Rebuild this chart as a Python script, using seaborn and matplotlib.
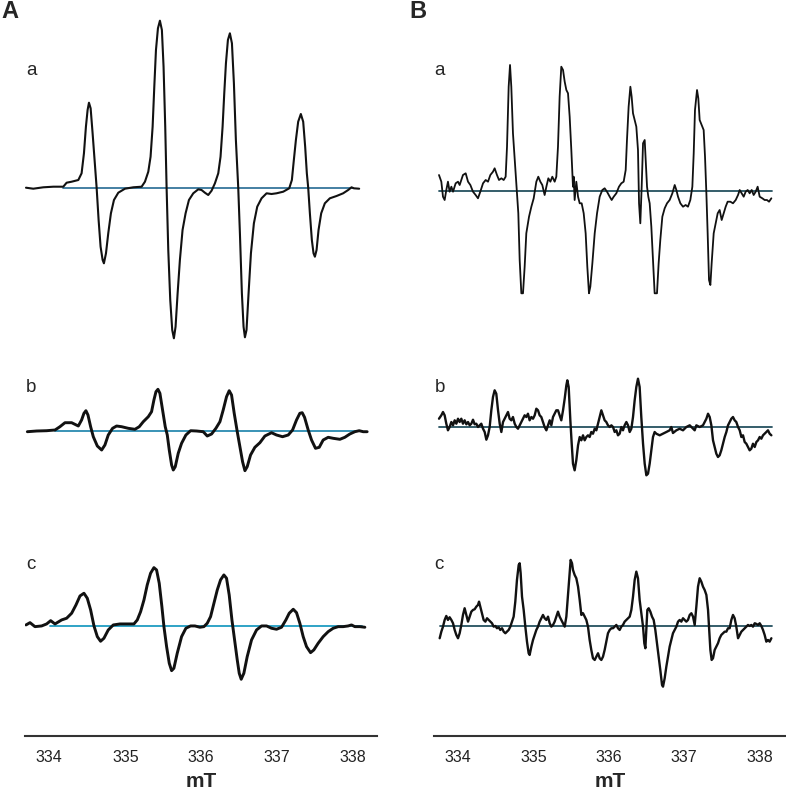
import matplotlib

matplotlib.use("Agg")
import matplotlib.pyplot as plt
import seaborn as sns

# ---------------------------------------------------------------------------
# Digitised EPR traces: (field in mT, signal in arbitrary units)
# ---------------------------------------------------------------------------

A_A = [(333.693, 0.3), (333.789, -0.7), (333.921, 0.7), (334.053, 1.3), (334.184, 1.3),
       (334.228, 5.3), (334.294, 6.3), (334.382, 8.0), (334.425, 14.7), (334.456, 34.7),
       (334.482, 61.3), (334.504, 78.0), (334.522, 85.3), (334.544, 79.7), (334.570, 54.7),
       (334.596, 28.0), (334.623, 0.3), (334.649, -32.0), (334.675, -58.7), (334.702, -72.0),
       (334.719, -75.3), (334.746, -65.3), (334.776, -45.3), (334.811, -25.3), (334.851, -12.0),
       (334.908, -4.7), (334.996, -0.7), (335.105, 0.7), (335.215, 1.3), (335.259, 6.3),
       (335.303, 16.3), (335.333, 31.3), (335.360, 61.3), (335.382, 101.3), (335.404, 138.0),
       (335.430, 159.7), (335.456, 167.3), (335.482, 158.0), (335.504, 121.3), (335.526, 61.3),
       (335.544, 0.3), (335.566, -62.0), (335.592, -112.0), (335.618, -142.0), (335.640, -150.3),
       (335.662, -138.7), (335.689, -105.3), (335.719, -72.0), (335.754, -42.0), (335.794, -25.3),
       (335.838, -12.0), (335.895, -5.3), (335.961, -1.3), (336.004, -2.0), (336.048, -4.7),
       (336.092, -7.0), (336.136, -2.7), (336.180, 4.7), (336.224, 14.7), (336.254, 31.3),
       (336.281, 61.3), (336.303, 94.7), (336.325, 124.7), (336.351, 148.0), (336.377, 154.7),
       (336.404, 144.7), (336.430, 104.7), (336.456, 48.0), (336.487, 0.3), (336.509, -45.3),
       (336.535, -105.3), (336.557, -138.7), (336.575, -149.3), (336.596, -142.0), (336.623, -105.3),
       (336.654, -65.3), (336.693, -35.3), (336.737, -18.7), (336.794, -10.3), (336.860, -5.3),
       (336.925, -6.0), (336.991, -5.3), (337.079, -3.7), (337.158, -0.3), (337.193, 8.0),
       (337.219, 28.0), (337.246, 48.0), (337.276, 66.3), (337.311, 74.0), (337.342, 66.3),
       (337.368, 41.3), (337.390, 14.7), (337.408, 0.3), (337.430, -25.3), (337.456, -52.0),
       (337.478, -65.3), (337.496, -68.7), (337.518, -62.0), (337.544, -42.0), (337.579, -25.3),
       (337.627, -15.3), (337.693, -10.3), (337.781, -8.0), (337.868, -5.3), (337.934, -2.0),
       (337.978, 0.7), (338.009, -0.3), (338.079, -0.7)]

A_B = [(333.711, -0.7), (333.833, 0.0), (333.965, 0.3), (334.075, 1.0), (334.140, 4.3),
       (334.206, 8.3), (334.294, 8.3), (334.382, 5.0), (334.425, 11.0), (334.456, 17.7),
       (334.482, 20.3), (334.509, 16.0), (334.544, 4.3), (334.579, -5.7), (334.632, -15.0),
       (334.689, -19.0), (334.732, -14.0), (334.776, -4.0), (334.833, 2.7), (334.886, 5.0),
       (334.952, 4.3), (335.039, 2.7), (335.127, 1.7), (335.184, 4.3), (335.237, 9.3),
       (335.303, 14.3), (335.346, 19.3), (335.377, 31.0), (335.404, 39.3), (335.430, 41.7),
       (335.456, 37.7), (335.491, 21.0), (335.526, 4.3), (335.553, -4.0), (335.579, -19.0),
       (335.610, -34.0), (335.632, -39.0), (335.658, -35.7), (335.697, -22.3), (335.741, -12.3),
       (335.798, -4.0), (335.860, 0.3), (335.939, 0.0), (336.026, -0.7), (336.079, -5.0),
       (336.136, -3.0), (336.193, 2.7), (336.246, 9.3), (336.289, 21.0), (336.333, 34.3),
       (336.368, 40.3), (336.399, 36.0), (336.434, 17.7), (336.474, -0.7), (336.509, -15.7),
       (336.544, -30.7), (336.575, -39.7), (336.605, -35.7), (336.649, -24.0), (336.706, -16.3),
       (336.772, -11.7), (336.838, -5.0), (336.925, -1.7), (336.991, -4.0), (337.070, -5.7),
       (337.145, -4.0), (337.202, 1.0), (337.254, 11.0), (337.298, 17.7), (337.329, 18.3),
       (337.360, 13.7), (337.408, 1.0), (337.452, -9.0), (337.504, -17.3), (337.553, -16.3),
       (337.605, -9.0), (337.671, -6.3), (337.737, -7.3), (337.825, -8.3), (337.890, -6.3),
       (337.956, -3.0), (338.022, -0.7), (338.079, 0.3), (338.132, -0.7), (338.184, -0.7)]

A_C = [(333.693, 1.0), (333.746, 3.3), (333.811, -0.7), (333.899, 0.0), (333.965, 2.0),
       (334.018, 5.3), (334.075, 2.0), (334.162, 6.0), (334.228, 7.7), (334.294, 12.7),
       (334.351, 21.0), (334.404, 30.0), (334.456, 32.7), (334.500, 27.7), (334.544, 16.0),
       (334.588, 0.0), (334.632, -10.7), (334.675, -15.3), (334.719, -12.3), (334.776, -4.0),
       (334.842, 1.0), (334.930, 2.0), (335.039, 2.0), (335.114, 2.0), (335.158, 6.0),
       (335.202, 14.3), (335.246, 26.0), (335.289, 41.0), (335.333, 52.7), (335.377, 58.3),
       (335.412, 56.0), (335.447, 42.7), (335.482, 19.3), (335.509, -0.7), (335.544, -20.7),
       (335.579, -37.3), (335.610, -44.7), (335.640, -42.3), (335.684, -27.3), (335.741, -10.7),
       (335.798, -2.3), (335.860, 0.0), (335.917, 0.0), (335.982, -1.3), (336.035, -0.7),
       (336.079, 2.7), (336.123, 9.3), (336.167, 22.7), (336.211, 36.0), (336.254, 46.0),
       (336.298, 51.0), (336.333, 47.7), (336.368, 31.0), (336.404, 6.0), (336.439, -14.0),
       (336.474, -34.0), (336.500, -47.3), (336.526, -53.3), (336.561, -47.3), (336.605, -30.7),
       (336.662, -14.0), (336.728, -4.0), (336.794, 0.0), (336.860, 0.0), (336.925, -2.3),
       (336.991, -3.3), (337.057, -1.3), (337.114, 6.0), (337.158, 12.7), (337.211, 16.7),
       (337.254, 13.3), (337.298, 2.7), (337.342, -10.7), (337.386, -20.7), (337.439, -26.7),
       (337.482, -24.0), (337.539, -17.3), (337.605, -10.7), (337.671, -5.7), (337.737, -2.3),
       (337.803, -0.7), (337.868, -0.7), (337.934, 0.0), (337.978, 1.0), (338.022, -0.7),
       (338.088, -0.7), (338.154, -1.3)]

B_A = [(333.748, 16.0), (333.779, 9.3), (333.801, -5.7), (333.823, -9.0), (333.845, 1.0),
       (333.867, 9.3), (333.889, -0.7), (333.912, 4.3), (333.934, -0.7), (333.969, 7.7),
       (334.000, 9.3), (334.022, 6.0), (334.066, 16.0), (334.102, 17.7), (334.133, 9.3),
       (334.164, 6.0), (334.199, -0.7), (334.234, -4.0), (334.265, -7.3), (334.296, -0.7),
       (334.332, 7.7), (334.367, 11.0), (334.398, 9.3), (334.429, 16.0), (334.464, 19.3),
       (334.486, 22.7), (334.517, 16.0), (334.544, 11.0), (334.575, 12.7), (334.606, 11.0),
       (334.632, 14.3), (334.650, 44.3), (334.672, 104.3), (334.690, 126.0), (334.707, 104.3),
       (334.729, 57.7), (334.765, 17.7), (334.782, -0.7), (334.800, -22.3), (334.818, -69.0),
       (334.840, -102.3), (334.862, -102.3), (334.884, -75.7), (334.906, -42.3), (334.942, -25.7),
       (334.973, -15.7), (335.004, -7.3), (335.039, 9.3), (335.065, 14.3), (335.092, 9.3),
       (335.118, 6.0), (335.149, -4.0), (335.172, 4.3), (335.198, 12.7), (335.225, 9.3),
       (335.251, 14.3), (335.282, 9.3), (335.304, 14.3), (335.326, 44.3), (335.348, 94.3),
       (335.370, 124.3), (335.393, 121.0), (335.415, 109.3), (335.437, 101.0), (335.459, 97.7),
       (335.481, 74.3), (335.503, 41.0), (335.525, 4.3), (335.534, 14.3), (335.547, -9.0),
       (335.569, 9.3), (335.592, -5.7), (335.614, -12.3), (335.640, -12.3), (335.667, -22.3),
       (335.693, -42.3), (335.715, -75.7), (335.737, -102.3), (335.755, -95.7), (335.782, -72.3),
       (335.813, -42.3), (335.844, -22.3), (335.879, -5.7), (335.914, 1.0), (335.945, 2.7),
       (335.976, -0.7), (336.012, -5.7), (336.038, -9.0), (336.065, -5.7), (336.100, -2.3),
       (336.135, 4.3), (336.166, 7.7), (336.197, 9.3), (336.224, 21.0), (336.241, 51.0),
       (336.263, 84.3), (336.286, 104.3), (336.303, 94.3), (336.321, 77.7), (336.343, 71.0),
       (336.365, 64.3), (336.387, 41.0), (336.401, -12.3), (336.418, -32.3), (336.436, 4.3),
       (336.454, 47.7), (336.476, 51.0), (336.489, 31.0), (336.507, 4.3), (336.524, -5.7),
       (336.542, -12.3), (336.564, -35.7), (336.586, -69.0), (336.608, -102.3), (336.639, -102.3),
       (336.661, -72.3), (336.683, -49.0), (336.710, -25.7), (336.741, -17.3), (336.772, -12.3),
       (336.807, -9.0), (336.843, -2.3), (336.874, 6.0), (336.896, 1.0), (336.918, -5.7),
       (336.949, -12.3), (336.984, -15.7), (337.019, -14.0), (337.050, -15.7), (337.081, -9.0),
       (337.108, 4.3), (337.126, 37.7), (337.143, 81.0), (337.170, 101.0), (337.187, 92.7),
       (337.205, 71.0), (337.232, 66.0), (337.258, 61.0), (337.276, 34.3), (337.294, -2.3),
       (337.311, -42.3), (337.329, -89.0), (337.347, -94.0), (337.364, -72.3), (337.391, -42.3),
       (337.417, -32.3), (337.444, -22.3), (337.470, -19.0), (337.497, -29.0), (337.523, -22.3),
       (337.550, -15.7), (337.576, -10.7), (337.612, -10.7), (337.647, -12.3), (337.683, -9.0),
       (337.714, -4.0), (337.736, 1.0), (337.762, -2.3), (337.789, -5.7), (337.815, -0.7),
       (337.842, 1.0), (337.868, -2.3), (337.895, 1.0), (337.921, -4.0), (337.948, -0.7),
       (337.974, 4.3), (338.001, -5.7), (338.036, -7.3), (338.067, -9.0), (338.098, -9.0),
       (338.125, -10.7), (338.156, -7.3)]

B_B = [(333.748, 8.3), (333.779, 11.7), (333.801, 15.0), (333.823, 11.7), (333.845, 3.3),
       (333.867, -3.3), (333.889, 0.0), (333.912, 5.0), (333.934, 1.7), (333.956, 6.7),
       (333.978, 3.3), (334.000, 8.3), (334.022, 5.0), (334.044, 8.3), (334.066, 3.3),
       (334.088, 6.7), (334.111, 2.7), (334.133, 5.0), (334.155, 1.7), (334.177, 3.3),
       (334.199, 7.3), (334.221, 2.7), (334.243, 3.3), (334.265, 0.0), (334.287, 1.7),
       (334.309, 3.3), (334.332, -1.7), (334.354, -5.0), (334.376, -12.7), (334.398, -8.3),
       (334.420, 0.0), (334.442, 16.7), (334.464, 30.0), (334.486, 36.7), (334.508, 33.3),
       (334.531, 16.7), (334.553, 3.3), (334.575, -5.0), (334.597, 5.0), (334.619, 8.3),
       (334.641, 11.7), (334.663, 15.0), (334.685, 8.3), (334.707, 6.7), (334.729, 10.0),
       (334.752, 3.3), (334.774, 0.0), (334.796, -1.7), (334.818, 1.7), (334.840, 5.0),
       (334.862, 8.3), (334.884, 11.7), (334.906, 10.0), (334.928, 13.3), (334.950, 6.7),
       (334.973, 10.0), (334.995, 8.3), (335.017, 11.7), (335.039, 18.3), (335.061, 16.7),
       (335.083, 11.7), (335.105, 10.0), (335.127, 5.0), (335.149, 0.0), (335.172, -3.3),
       (335.194, 1.7), (335.216, 6.7), (335.238, 1.7), (335.260, 10.0), (335.282, 13.3),
       (335.304, 16.7), (335.326, 16.7), (335.348, 11.7), (335.370, 6.7), (335.393, 16.7),
       (335.415, 28.3), (335.437, 41.7), (335.450, 46.7), (335.468, 40.0), (335.490, 6.7),
       (335.508, -16.7), (335.525, -36.7), (335.547, -43.3), (335.569, -33.3), (335.592, -18.3),
       (335.614, -10.0), (335.636, -13.3), (335.658, -8.3), (335.680, -13.3), (335.702, -10.0),
       (335.724, -8.3), (335.746, -10.0), (335.768, -5.0), (335.790, -6.7), (335.813, -1.7),
       (335.835, -3.3), (335.857, 3.3), (335.879, 10.0), (335.901, 16.7), (335.923, 11.7),
       (335.945, 6.7), (335.967, 5.0), (335.989, 1.7), (336.012, 0.0), (336.034, 1.7),
       (336.056, 0.0), (336.078, -5.0), (336.100, -3.3), (336.122, -8.3), (336.144, -6.7),
       (336.166, 0.0), (336.188, -3.3), (336.210, 1.7), (336.233, 5.0), (336.255, 1.7),
       (336.277, -5.0), (336.299, -1.7), (336.321, 10.0), (336.343, 26.7), (336.365, 40.0),
       (336.387, 48.3), (336.409, 40.0), (336.431, 10.0), (336.454, -16.7), (336.476, -36.7),
       (336.498, -48.3), (336.520, -46.7), (336.542, -36.7), (336.564, -23.3), (336.586, -10.0),
       (336.608, -5.0), (336.630, -6.7), (336.675, -8.3), (336.719, -6.7), (336.763, -5.0),
       (336.807, -3.3), (336.829, 0.0), (336.851, -6.0), (336.896, -3.3), (336.940, -1.7),
       (336.984, -3.3), (337.028, 0.0), (337.073, 1.7), (337.117, -1.7), (337.139, -3.3),
       (337.161, 1.7), (337.205, 0.0), (337.249, 1.7), (337.294, 8.3), (337.316, 13.3),
       (337.338, 10.0), (337.360, 1.7), (337.382, -13.3), (337.404, -20.0), (337.426, -26.7),
       (337.448, -30.0), (337.470, -28.3), (337.492, -23.3), (337.515, -16.7), (337.537, -10.0),
       (337.559, -5.0), (337.581, 1.7), (337.603, 5.0), (337.625, 8.3), (337.647, 10.0),
       (337.669, 6.7), (337.691, 5.0), (337.714, 0.0), (337.736, -3.3), (337.758, -10.0),
       (337.780, -8.3), (337.802, -15.0), (337.824, -16.7), (337.846, -20.0), (337.868, -23.3),
       (337.890, -21.7), (337.912, -16.7), (337.935, -20.0), (337.957, -15.0), (337.979, -13.3),
       (338.001, -10.0), (338.023, -11.7), (338.045, -8.3), (338.067, -6.7), (338.089, -5.0),
       (338.111, -3.3), (338.133, -6.7), (338.156, -8.3)]

B_C = [(333.757, -12.3), (333.779, -5.7), (333.801, -0.7), (333.823, 6.0), (333.845, 10.0),
       (333.867, 6.0), (333.889, 8.7), (333.912, 6.0), (333.934, 2.7), (333.956, -4.0),
       (333.978, -9.0), (334.000, -12.3), (334.022, -7.3), (334.044, 1.0), (334.066, 11.0),
       (334.088, 17.7), (334.111, 11.0), (334.133, 4.3), (334.155, 9.3), (334.177, 14.3),
       (334.199, 16.0), (334.221, 16.7), (334.243, 19.3), (334.265, 21.0), (334.279, 24.3),
       (334.296, 19.3), (334.318, 12.7), (334.340, 6.0), (334.363, 4.3), (334.385, 7.7),
       (334.407, 6.0), (334.429, 4.3), (334.451, 2.7), (334.473, -0.7), (334.495, 0.0),
       (334.517, -2.3), (334.539, -1.3), (334.561, -4.0), (334.584, -2.3), (334.606, -5.7),
       (334.628, -7.3), (334.650, -5.7), (334.672, -4.0), (334.694, -0.7), (334.716, 4.3),
       (334.738, 9.3), (334.760, 24.3), (334.782, 46.0), (334.805, 61.0), (334.818, 62.7),
       (334.831, 52.7), (334.849, 29.3), (334.871, 16.0), (334.893, -0.7), (334.915, -15.7),
       (334.937, -27.3), (334.950, -29.0), (334.973, -20.7), (334.995, -14.0), (335.017, -9.0),
       (335.039, -4.0), (335.061, -0.7), (335.083, 4.3), (335.105, 7.7), (335.127, 11.0),
       (335.149, 7.7), (335.172, 6.0), (335.194, 9.3), (335.216, 2.7), (335.238, -0.7),
       (335.260, 1.0), (335.282, 4.3), (335.304, 9.3), (335.326, 14.3), (335.348, 9.3),
       (335.370, 6.0), (335.393, 2.7), (335.415, -0.7), (335.437, 9.3), (335.454, 26.0),
       (335.472, 42.7), (335.494, 66.0), (335.512, 62.7), (335.525, 56.0), (335.547, 51.0),
       (335.569, 47.7), (335.592, 39.3), (335.614, 26.0), (335.636, 11.0), (335.658, 12.7),
       (335.680, 9.3), (335.702, 6.0), (335.724, -0.7), (335.746, -14.0), (335.768, -24.0),
       (335.790, -32.3), (335.813, -34.0), (335.835, -30.7), (335.857, -27.3), (335.879, -32.3),
       (335.901, -34.0), (335.923, -30.7), (335.945, -24.0), (335.967, -15.7), (335.989, -7.3),
       (336.012, -4.0), (336.034, -2.3), (336.056, -2.3), (336.078, -0.7), (336.100, 1.0),
       (336.122, -2.3), (336.144, -4.0), (336.166, -0.7), (336.188, 1.0), (336.210, 4.3),
       (336.233, 6.0), (336.255, 7.7), (336.277, 9.3), (336.299, 16.0), (336.321, 29.3),
       (336.343, 46.0), (336.365, 54.3), (336.387, 47.7), (336.409, 26.0), (336.431, 12.7),
       (336.454, -0.7), (336.471, -17.3), (336.485, -22.3), (336.498, -4.0), (336.511, 16.0),
       (336.529, 17.7), (336.551, 14.3), (336.573, 9.3), (336.595, 6.0), (336.617, -4.0),
       (336.639, -17.3), (336.661, -30.7), (336.683, -44.0), (336.706, -59.0), (336.719, -60.7),
       (336.741, -52.3), (336.763, -40.7), (336.785, -30.7), (336.807, -20.7), (336.829, -14.0),
       (336.851, -7.3), (336.874, -4.0), (336.896, -0.7), (336.918, 4.3), (336.940, 6.0),
       (336.962, 4.3), (336.984, 7.7), (337.006, 6.0), (337.028, 4.3), (337.050, 6.0),
       (337.073, 11.0), (337.095, 12.7), (337.117, 9.3), (337.139, 1.0), (337.161, 19.3),
       (337.183, 39.3), (337.205, 47.7), (337.227, 44.3), (337.249, 39.3), (337.271, 36.0),
       (337.294, 31.0), (337.316, 16.0), (337.329, -0.7), (337.347, -24.0), (337.364, -34.0),
       (337.382, -32.3), (337.404, -24.0), (337.426, -20.7), (337.448, -17.3), (337.470, -12.3),
       (337.492, -9.0), (337.515, -7.3), (337.537, -5.7), (337.559, -5.7), (337.581, -2.3),
       (337.603, -2.3), (337.625, 6.0), (337.647, 11.0), (337.669, 7.7), (337.691, -0.7),
       (337.714, -12.3), (337.736, -9.0), (337.758, -5.7), (337.780, -4.0), (337.802, -2.3),
       (337.824, -0.7), (337.846, 1.0), (337.868, 0.0), (337.890, 1.0), (337.912, -0.7),
       (337.935, 2.7), (337.957, 2.0), (337.979, 1.0), (338.001, 2.7), (338.023, 0.0),
       (338.045, -4.0), (338.067, -9.0), (338.089, -15.7), (338.111, -14.0), (338.133, -15.7),
       (338.156, -12.3)]

# extent of the drawn zero line under each trace (mT)
BASE_A = [(334.18, 338.00), (334.08, 338.12), (334.01, 338.12)]
BASE_B = [(333.75, 338.17), (333.75, 338.17), (333.76, 338.17)]

ROW_LABELS = ["a", "b", "c"]
FIELD_TICKS = [334, 335, 336, 337, 338]


def draw_column(fig, left, width, traces, bases, ylims, xlim, lws, line_color,
                base_colors, panel, panel_xy, label_x):
    rows = [(0.5443, 0.4557), (0.3291, 0.2152), (0.0684, 0.2608)]
    label_y = [0.911, 0.510, 0.285]
    for i, ((bottom, height), pairs, (b0, b1), ylim) in enumerate(
            zip(rows, traces, bases, ylims)):
        ax = fig.add_axes([left, bottom, width, height])
        ax.plot([b0, b1], [0, 0], color=base_colors[i], lw=1.3, zorder=1)
        field = [p[0] for p in pairs]
        signal = [p[1] for p in pairs]
        sns.lineplot(x=field, y=signal, ax=ax, color=line_color, lw=lws[i],
                     estimator=None, sort=False, zorder=2)
        ax.set_xlim(*xlim)
        ax.set_ylim(*ylim)
        ax.set_yticks([])
        ax.set_ylabel("")
        for side in ["top", "left", "right"]:
            ax.spines[side].set_visible(False)
        if i < 2:
            ax.spines["bottom"].set_visible(False)
            ax.set_xticks([])
        else:
            ax.spines["bottom"].set_color("#333333")
            ax.spines["bottom"].set_linewidth(1.5)
            ax.set_xticks(FIELD_TICKS)
            ax.set_xticklabels([str(t) for t in FIELD_TICKS])
            ax.tick_params(axis="x", direction="out", length=5, width=1.2,
                           colors="#333333", labelsize=11.5, labelcolor="#222222",
                           pad=5)
            ax.set_xlabel("mT", fontsize=15, fontweight="bold", labelpad=5)
        ax.patch.set_alpha(0)
        fig.text(label_x, label_y[i], ROW_LABELS[i], fontsize=13.5,
                 ha="left", va="center")
    fig.text(panel_xy[0], panel_xy[1], panel, fontsize=17, fontweight="bold",
             ha="center", va="center")


def main():
    sns.set_style("white")
    plt.rcParams["font.family"] = ["Liberation Sans", "DejaVu Sans"]

    fig = plt.figure(figsize=(7.86, 7.90), dpi=100)

    draw_column(fig, 0.0318, 0.4475, [A_A, A_B, A_C], BASE_A,
                [(-172, 188), (-99, 71), (-110, 96)], (333.68, 338.31),
                [1.5, 2.1, 2.1], "#111111",
                ["#35759b", "#2a8ab0", "#1f9cc2"], "A", (0.012, 0.986), 0.033)
    draw_column(fig, 0.5518, 0.4482, [B_A, B_B, B_C], BASE_B,
                [(-169, 191), (-103, 67), (-110, 96)], (333.678, 338.35),
                [1.3, 1.7, 1.7], "#111111",
                ["#24505f", "#24505f", "#24505f"], "B", (0.532, 0.986), 0.553)

    fig.savefig("out.png", dpi=100)
    plt.close(fig)


if __name__ == "__main__":
    main()
